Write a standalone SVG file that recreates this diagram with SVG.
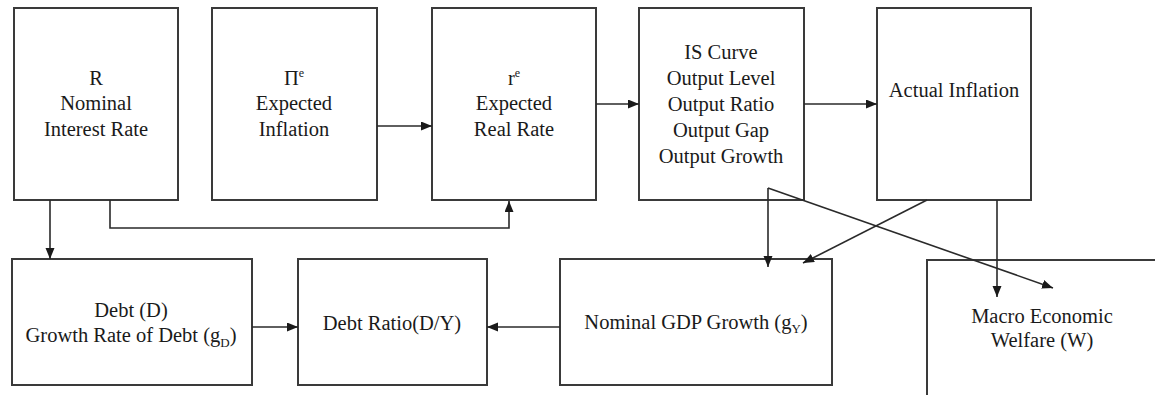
<svg xmlns="http://www.w3.org/2000/svg" width="1155" height="395" viewBox="0 0 1155 395">
<defs>
<style>
.box{fill:#ffffff;stroke:#3a3a3a;stroke-width:2}
.t{font-family:"Liberation Serif","Times New Roman",serif;font-size:20.5px;fill:#1a1a1a;text-anchor:middle}
.c{fill:none;stroke:#2a2a2a;stroke-width:1.6}
</style>
<marker id="ah" markerUnits="userSpaceOnUse" markerWidth="12" markerHeight="10" refX="11" refY="4.5" orient="auto">
<path d="M0,0 L11,4.5 L0,9 z" fill="#1a1a1a"/>
</marker>
</defs>
<rect width="1155" height="395" fill="#ffffff"/>

<g id="node-R">
<rect class="box" x="14" y="8" width="164" height="192"/>
<text class="t" x="96" y="85">R</text>
<text class="t" x="96" y="110">Nominal</text>
<text class="t" x="96" y="136">Interest Rate</text>
</g>

<g id="node-expected-inflation">
<rect class="box" x="212" y="8" width="165" height="192"/>
<text class="t" x="294" y="85">Π<tspan font-size="12" dy="-8">e</tspan></text>
<text class="t" x="294" y="110">Expected</text>
<text class="t" x="294" y="136">Inflation</text>
</g>

<g id="node-expected-real-rate">
<rect class="box" x="432" y="8" width="164" height="192"/>
<text class="t" x="514" y="85">r<tspan font-size="12" dy="-8">e</tspan></text>
<text class="t" x="514" y="110">Expected</text>
<text class="t" x="514" y="136">Real Rate</text>
</g>

<g id="node-is-curve">
<rect class="box" x="639" y="8" width="165" height="192"/>
<text class="t" x="721" y="59">IS Curve</text>
<text class="t" x="721" y="85">Output Level</text>
<text class="t" x="721" y="111">Output Ratio</text>
<text class="t" x="721" y="137">Output Gap</text>
<text class="t" x="721" y="163">Output Growth</text>
</g>

<g id="node-actual-inflation">
<rect class="box" x="877" y="8" width="154" height="192"/>
<text class="t" x="954" y="97">Actual Inflation</text>
</g>

<g id="node-debt">
<rect class="box" x="12" y="259" width="240" height="126"/>
<text class="t" x="131" y="317">Debt (D)</text>
<text class="t" x="131" y="342">Growth Rate of Debt (g<tspan font-size="13" dy="5">D</tspan><tspan dy="-5">)</tspan></text>
</g>

<g id="node-debt-ratio">
<rect class="box" x="298" y="259" width="189" height="126"/>
<text class="t" x="392" y="330">Debt Ratio(D/Y)</text>
</g>

<g id="node-nominal-gdp">
<rect class="box" x="560" y="259" width="272" height="126"/>
<text class="t" x="696" y="329">Nominal GDP Growth (g<tspan font-size="13" dy="4">Y</tspan><tspan dy="-4">)</tspan></text>
</g>

<g id="node-welfare">
<path class="box" d="M927,400 L927,260 L1160,260 L1160,400"/>
<text class="t" x="1042" y="323">Macro Economic</text>
<text class="t" x="1042" y="347">Welfare (W)</text>
</g>

<g id="connectors">
<line class="c" x1="377" y1="126" x2="432" y2="126" marker-end="url(#ah)"/>
<line class="c" x1="596" y1="104" x2="639" y2="104" marker-end="url(#ah)"/>
<line class="c" x1="804" y1="104" x2="877" y2="104" marker-end="url(#ah)"/>
<line class="c" x1="50" y1="200" x2="50" y2="259" marker-end="url(#ah)"/>
<polyline class="c" points="110,200 110,228 509,228 509,201" marker-end="url(#ah)"/>
<line class="c" x1="252" y1="327" x2="298" y2="327" marker-end="url(#ah)"/>
<line class="c" x1="560" y1="327" x2="487" y2="327" marker-end="url(#ah)"/>
<line class="c" x1="768" y1="188" x2="768" y2="267" marker-end="url(#ah)"/>
<line class="c" x1="768" y1="188" x2="1053" y2="288" marker-end="url(#ah)"/>
<line class="c" x1="927" y1="200" x2="803" y2="263" marker-end="url(#ah)"/>
<line class="c" x1="997" y1="200" x2="997" y2="297" marker-end="url(#ah)"/>
</g>
</svg>
